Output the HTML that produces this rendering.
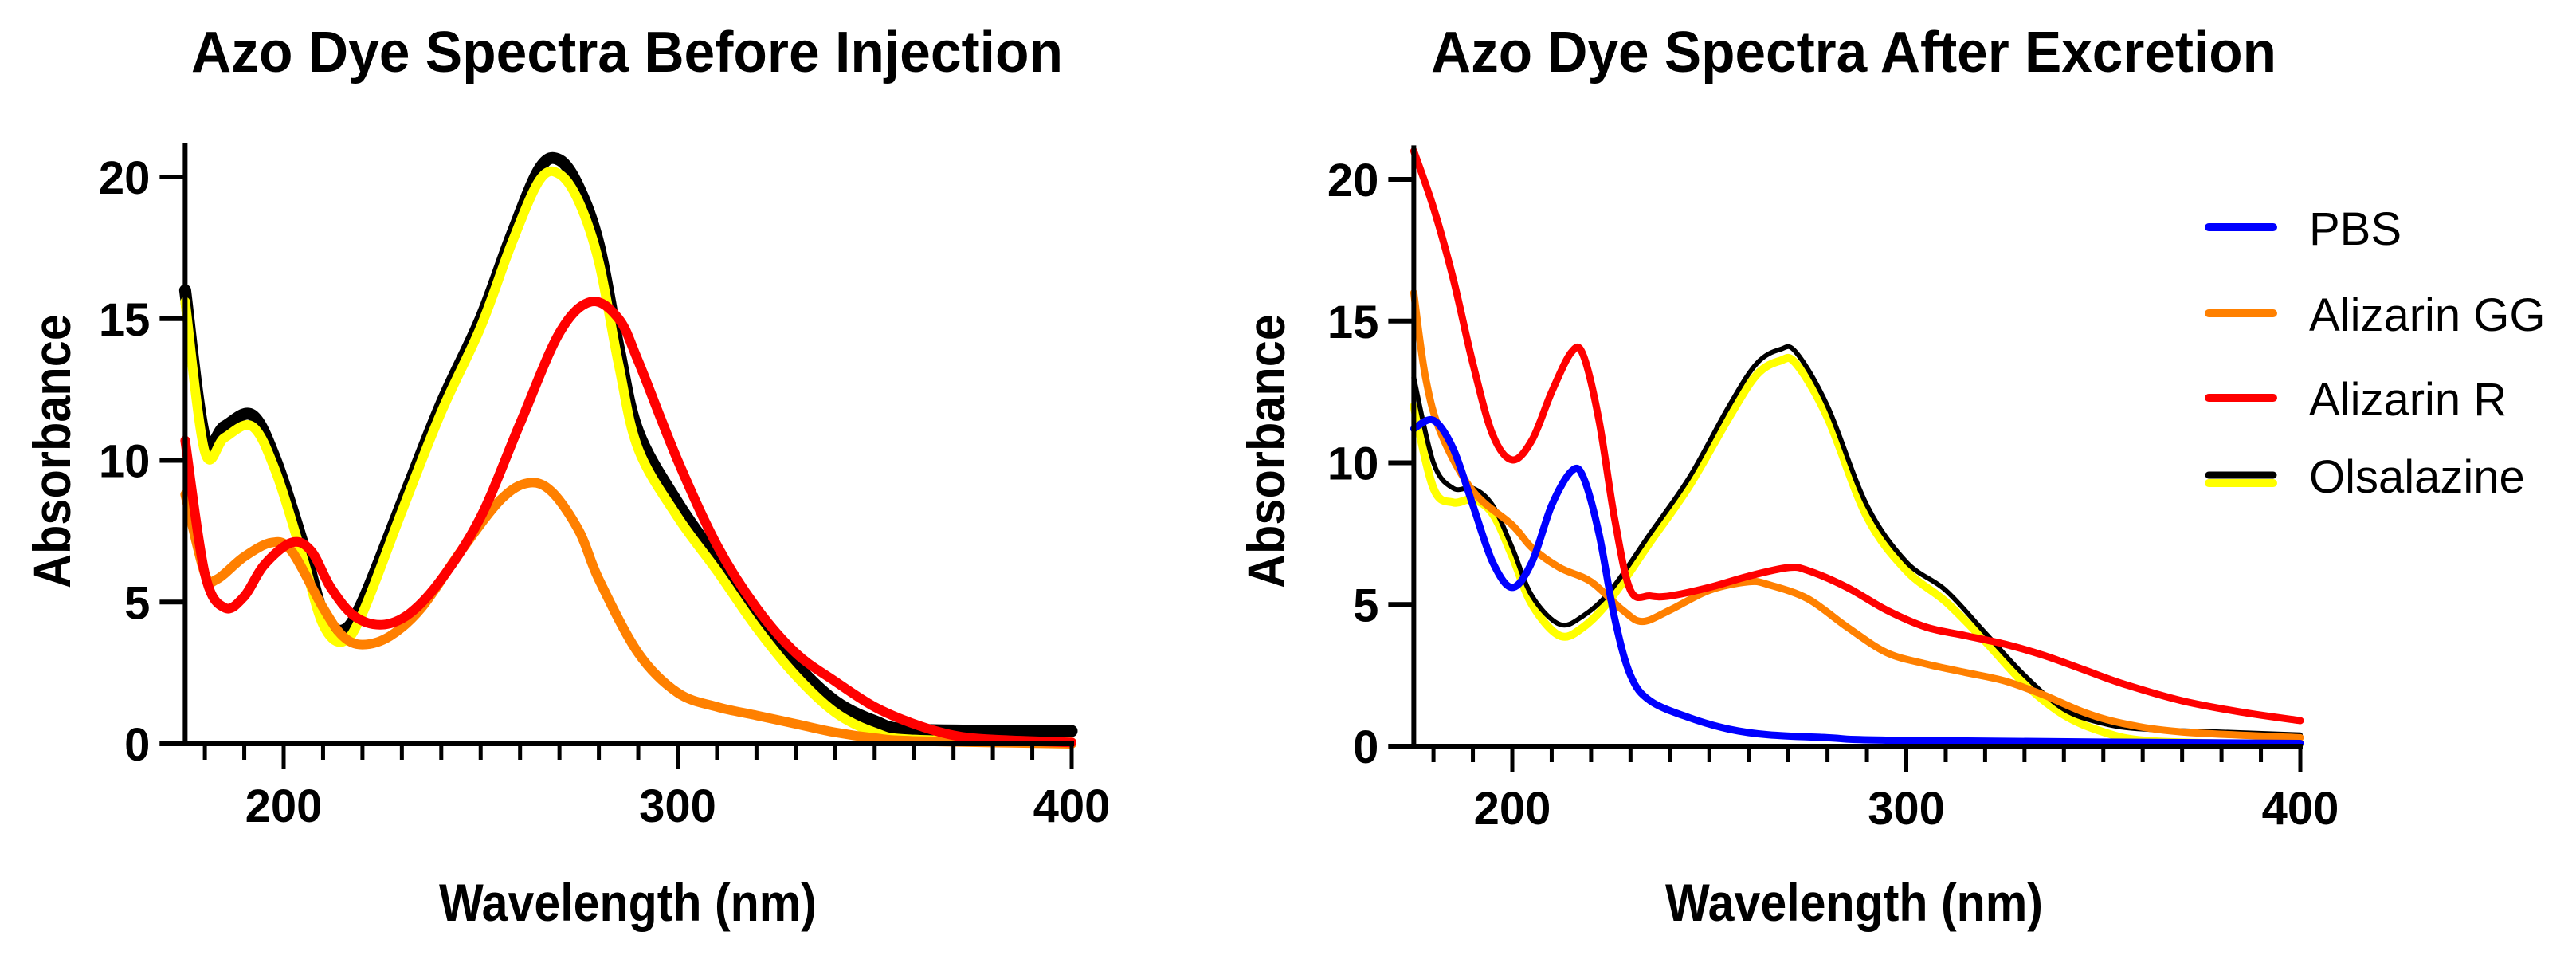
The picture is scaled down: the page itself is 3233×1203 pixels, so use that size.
<!DOCTYPE html>
<html><head><meta charset="utf-8">
<style>
html,body{margin:0;padding:0;background:#fff;}
svg{display:block;font-family:"Liberation Sans",Arial,sans-serif;}
</style></head>
<body>
<svg id="fig" width="3233" height="1203" viewBox="0 0 3233 1203" xmlns="http://www.w3.org/2000/svg"></svg>
<script>
// ---------- DATA ----------
const leftOlsX = [175,180,185,192,198,205,210,215,220,230,240,250,258,265,270,275,280,285,290,300,310,320,330,340,350,360,400];
const leftOlsBlackY = [16,10.8,11.2,11.6,10,7,4.6,4.0,5.0,8.5,12,15,18,20.3,20.6,19.6,17.6,14,11,8.5,6.5,4.5,2.8,1.5,0.8,0.5,0.45];
const leftOlsYellowY = [15.6,10.3,10.8,11.2,9.6,6.5,4.2,3.6,4.6,8.2,11.7,14.7,17.7,19.9,20.1,19.1,17,13.4,10.4,8.0,6.1,4.1,2.4,1.1,0.4,0.15,0.05];
const leftRedX = [175,180,185,190,195,202,207,212,218,225,232,240,250,260,270,278,285,290,300,310,320,330,340,350,360,370,380,400];
const leftRedY = [10.7,6,4.8,5.2,6.3,7.1,6.8,5.5,4.5,4.2,4.6,5.8,8,11.3,14.5,15.6,15,13.5,10,7,4.8,3.2,2.2,1.3,0.7,0.3,0.15,0.05];
const leftOrangeX = [175,180,183,190,197,202,210,215,220,227,235,245,255,262,268,275,280,290,300,310,320,330,340,350,360,400];
const leftOrangeY = [8.8,6,5.8,6.6,7.1,6.8,4.8,3.8,3.5,3.8,4.8,6.8,8.6,9.2,8.9,7.5,5.8,3.2,1.8,1.3,1.0,0.7,0.4,0.2,0.1,0];
const rightRedX = [175,180,185,190,195,200,205,210,215,218,222,226,230,235,240,250,260,270,275,285,295,305,315,325,335,345,355,370,385,400];
const rightRedY = [21,19,16.5,13.5,11,10.1,10.8,12.5,13.9,13.8,11.5,8,5.5,5.3,5.3,5.6,6,6.3,6.2,5.6,4.8,4.2,3.9,3.6,3.2,2.7,2.2,1.6,1.2,0.9];
const rightBlueX = [175,180,185,190,195,200,205,210,215,218,222,226,230,235,245,255,265,280,300,400];
const rightBlueY = [11.2,11.5,10.5,8.5,6.5,5.6,6.5,8.5,9.7,9.5,7.5,4.5,2.5,1.6,1.0,0.6,0.4,0.3,0.2,0.1];
const rightOrangeX = [175,178,182,190,200,205,212,220,228,233,240,250,260,265,275,285,295,305,315,325,335,345,355,370,400];
const rightOrangeY = [16,13,11,9,7.8,7,6.3,5.8,4.8,4.4,4.8,5.5,5.8,5.7,5.2,4.2,3.3,2.9,2.6,2.3,1.8,1.2,0.8,0.5,0.3];
const rightOlsX = [175,180,185,190,195,200,205,212,218,225,235,245,255,262,268,272,280,290,300,310,320,330,340,350,360,380,400];
const rightOlsBlackY = [13,10,9.1,9.1,8.5,7,5.3,4.3,4.6,5.5,7.5,9.5,12,13.5,14,13.9,12,8.5,6.5,5.5,4,2.5,1.3,0.8,0.6,0.5,0.4];
const rightOlsYellowY = [12,9.1,8.6,8.7,8.2,6.7,5.0,3.9,4.2,5.2,7.2,9.2,11.6,13.1,13.6,13.5,11.6,8.1,6.2,5.1,3.7,2.2,1.1,0.5,0.2,0.1,0.1];
const yTicks = [0,5,10,15,20];
const xTickLabels = [200,300,400];
const legendNames = ["PBS","Alizarin GG","Alizarin R","Olsalazine"];

// ---------- DRAW ----------
const NS="http://www.w3.org/2000/svg";
const svg=document.getElementById('fig');
function mk(tag,attrs,parent){const e=document.createElementNS(NS,tag);for(const k in attrs)e.setAttribute(k,attrs[k]);(parent||svg).appendChild(e);return e;}

function panel(cfg){
  const g=mk('g',{});
  
  
  const sx=v=>cfg.x200+(v-200)*cfg.pxnm;
  const sy=v=>cfg.y0-v*cfg.pxunit;
  const t=mk('text',{x:cfg.titleX0,y:90,'font-size':72,'font-weight':'bold',fill:'#000',textLength:cfg.titleLen,lengthAdjust:'spacingAndGlyphs'},g);
  t.textContent=cfg.title;
  
  
  cfg.series.forEach(s=>{
    const pts=s.x.map((xv,i)=>[sx(xv),sy(s.y[i])]);
    let d='M'+pts[0][0]+','+pts[0][1];
    for(let i=0;i<pts.length-1;i++){
      const p0=pts[Math.max(0,i-1)],p1=pts[i],p2=pts[i+1],p3=pts[Math.min(pts.length-1,i+2)];
      const c1x=p1[0]+(p2[0]-p0[0])/6,c1y=p1[1]+(p2[1]-p0[1])/6;
      const c2x=p2[0]-(p3[0]-p1[0])/6,c2y=p2[1]-(p3[1]-p1[1])/6;
      d+=` C${c1x},${c1y} ${c2x},${c2y} ${p2[0]},${p2[1]}`;
    }
    const p=mk('path',{d:d,fill:'none',stroke:s.color,'stroke-width':s.w,'stroke-linejoin':'round','stroke-linecap':'round'},g);
    
    
  });
  const ax=sx(175);
  const ya=mk('line',{x1:ax,y1:sy(21.2),x2:ax,y2:sy(0)+3,stroke:'#000','stroke-width':6},g);
  
  
  const xa=mk('line',{x1:ax-32,y1:sy(0),x2:sx(400)+3,y2:sy(0),stroke:'#000','stroke-width':6},g);
  
  
  yTicks.forEach(v=>{
    mk('line',{x1:ax-32,y1:sy(v),x2:ax,y2:sy(v),stroke:'#000','stroke-width':6},g);
    const tl=mk('text',{x:ax-44,y:sy(v)+21,'text-anchor':'end','font-size':58,'font-weight':'bold'},g);
    tl.textContent=v;
    
    
  });
  for(let v=180;v<=400;v+=10){
    const major=(v%100===0);
    mk('line',{x1:sx(v),y1:sy(0),x2:sx(v),y2:sy(0)+(major?32:20),stroke:'#000','stroke-width':5},g);
  }
  xTickLabels.forEach(v=>{
    const tl=mk('text',{x:sx(v),y:sy(0)+98,'text-anchor':'middle','font-size':58,'font-weight':'bold'},g);
    tl.textContent=v;
    
    
  });
  const xl=mk('text',{x:cfg.xlabX-237,y:1155,'font-size':66,'font-weight':'bold',textLength:474,lengthAdjust:'spacingAndGlyphs'},g);
  xl.textContent='Wavelength (nm)';
  
  
  const yl=mk('text',{x:-172,y:0,'font-size':66,'font-weight':'bold',textLength:344,lengthAdjust:'spacingAndGlyphs',transform:`translate(${cfg.ylabX},566) rotate(-90)`},g);
  yl.textContent='Absorbance';
  
  
}

panel({name:'before-injection-chart',title:'Azo Dye Spectra Before Injection',titleX0:240,titleLen:1094,xlabX:788,ylabX:88,
  x200:356,pxnm:4.945,y0:933,pxunit:35.55,
  series:[
    {name:'olsalazine-black-line',x:leftOlsX,y:leftOlsBlackY,color:'#000',w:15},
    {name:'olsalazine-yellow-line',x:leftOlsX,y:leftOlsYellowY,color:'#ffff00',w:12},
    {name:'alizarin-gg-line',x:leftOrangeX,y:leftOrangeY,color:'#ff8000',w:12},
    {name:'alizarin-r-line',x:leftRedX,y:leftRedY,color:'#ff0000',w:12}
  ]});
panel({name:'after-excretion-chart',title:'Azo Dye Spectra After Excretion',titleX0:1796,titleLen:1061,xlabX:2327,ylabX:1612,
  x200:1898,pxnm:4.945,y0:936,pxunit:35.55,
  series:[
    {name:'olsalazine-yellow-line',x:rightOlsX,y:rightOlsYellowY,color:'#ffff00',w:10},
    {name:'olsalazine-black-line',x:rightOlsX,y:rightOlsBlackY,color:'#000',w:6},
    {name:'alizarin-gg-line',x:rightOrangeX,y:rightOrangeY,color:'#ff8000',w:9},
    {name:'alizarin-r-line',x:rightRedX,y:rightRedY,color:'#ff0000',w:9},
    {name:'pbs-line',x:rightBlueX,y:rightBlueY,color:'#0000ff',w:9}
  ]});

const lg=mk('g',{});


const legendColors=['#0000ff','#ff8000','#ff0000','#000'];
const legendY=[285,393,499,596];
legendNames.forEach((n,i)=>{
  const e=mk('g',{},lg);
  
  
  if(i===3){
    mk('line',{x1:2772,y1:legendY[i]+10,x2:2853,y2:legendY[i]+10,stroke:'#ffff00','stroke-width':10,'stroke-linecap':'round'},e);
    mk('line',{x1:2772,y1:legendY[i],x2:2853,y2:legendY[i],stroke:'#000','stroke-width':9,'stroke-linecap':'round'},e);
  } else {
    mk('line',{x1:2772,y1:legendY[i],x2:2853,y2:legendY[i],stroke:legendColors[i],'stroke-width':10,'stroke-linecap':'round'},e);
  }
  const tx=mk('text',{x:2898,y:legendY[i]+22,'font-size':58},e);
  tx.textContent=n;
});
</script>
</body></html>
